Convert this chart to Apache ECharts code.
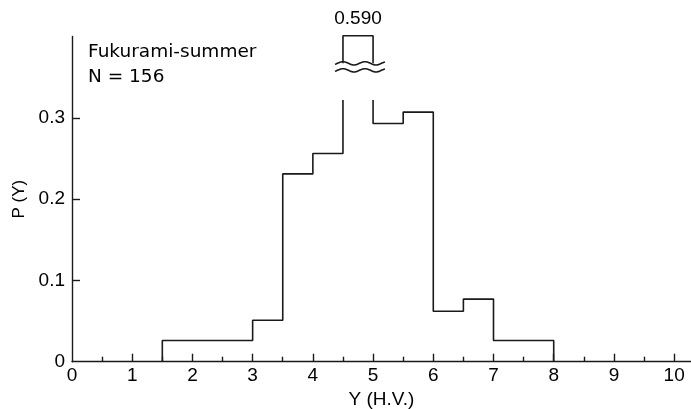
<!DOCTYPE html>
<html>
<head>
<meta charset="utf-8">
<script src="https://cdn.jsdelivr.net/npm/echarts@6/dist/echarts.min.js"></script>
<style>
  html, body { margin: 0; padding: 0; background: #fff; }
  #chart { width: 691px; height: 409px; }
</style>
</head>
<body>
<div id="chart"></div>
<script>
// Hue-value classes (lower edge of each 0.5-wide class) and their probability density
const binStart = [1.5, 2, 2.5, 3, 3.5, 4, 4.5, 5, 5.5, 6, 6.5, 7, 7.5];
const binWidth = 0.5;
const probability = [0.026, 0.026, 0.026, 0.051, 0.231, 0.256, 0.590, 0.293, 0.307, 0.062, 0.077, 0.026, 0.026];

const xTicks = [0, 1, 2, 3, 4, 5, 6, 7, 8, 9, 10];
const xMinorTicks = [0.5, 1.5, 2.5, 3.5, 4.5, 5.5, 6.5, 7.5, 8.5, 9.5];
const yTicks = [0, 0.1, 0.2, 0.3];

const sampleName = 'Fukurami-summer';
const sampleSize = 156;

// Axis break: any class above breakLow is cut there and its top is shown as a cap
// between breakHigh and capTop, labelled with the true value.
const breakLow = 0.322;
const breakHigh = 0.367;
const capTop = 0.401;

const INK = '#1a1a1a';
const TEXT = '#000';
const FONT = 'Liberation Sans, Arial, sans-serif';
const WIDE_FONT = 'DejaVu Sans, Verdana, sans-serif';

// outline of the histogram as one stepped polyline
const outline = [[binStart[0], 0]];
const caps = [];
const capLabels = [];
binStart.forEach((left, i) => {
  const right = left + binWidth;
  const p = probability[i];
  if (p > breakLow) {
    outline.push([left, breakLow], [left + binWidth / 2, '-'], [right, breakLow]);
    caps.push([[left, breakHigh], [left, capTop], [right, capTop], [right, breakHigh]]);
    capLabels.push([left + binWidth / 2, capTop, p]);
  } else {
    outline.push([left, p], [right, p]);
  }
});
outline.push([binStart[binStart.length - 1] + binWidth, 0]);

const capSeries = caps.map(pts => ({
  type: 'line',
  data: pts,
  symbol: 'none',
  clip: false,
  silent: true,
  lineStyle: { color: INK, width: 1.6 },
  z: 3
}));

// pair of wavy strokes marking the break under each cap
function renderBreak(params, api) {
  const left = api.coord([api.value(0), api.value(1)]);
  const right = api.coord([api.value(0) + binWidth, api.value(1)]);
  const x0 = left[0] - 8, x1 = right[0] + 12;
  const waves = [0, 7].map(dy => {
    const pts = [];
    for (let x = x0; x <= x1; x += 1) {
      pts.push([x, left[1] + dy - 1.6 * Math.cos(2 * Math.PI * (x - left[0]) / 22)]);
    }
    return {
      type: 'polyline',
      shape: { points: pts },
      style: { stroke: INK, lineWidth: 1.6, fill: null }
    };
  });
  return { type: 'group', children: waves };
}

const chart = echarts.init(document.getElementById('chart'), null, { renderer: 'canvas' });

chart.setOption({
  animation: false,
  backgroundColor: '#fff',
  textStyle: { fontFamily: FONT },
  grid: { left: 72, right: 0, top: 36.5, bottom: 47.3, containLabel: false, outerBoundsMode: 'none' },
  graphic: [{
    type: 'text',
    left: 88,
    top: 40,
    style: {
      text: sampleName + '\nN = ' + sampleSize,
      font: '18.5px ' + WIDE_FONT,
      fill: TEXT,
      lineHeight: 25
    }
  }],
  xAxis: [{
    type: 'value',
    min: 0,
    max: 10.28,
    name: 'Y (H.V.)',
    nameLocation: 'middle',
    nameGap: 28,
    nameTextStyle: { fontSize: 19, color: TEXT, fontFamily: FONT },
    axisLine: { show: true, onZero: false, lineStyle: { color: INK, width: 1.4 } },
    axisTick: { show: true, inside: true, length: 8, customValues: xTicks.slice(1), lineStyle: { color: INK, width: 1.4 } },
    axisLabel: { customValues: xTicks, fontSize: 19, color: TEXT, margin: 5, fontFamily: FONT },
    splitLine: { show: false }
  }, {
    type: 'value',
    min: 0,
    max: 10.28,
    position: 'bottom',
    axisLine: { show: false },
    axisTick: { show: true, inside: true, length: 5, customValues: xMinorTicks, lineStyle: { color: INK, width: 1.4 } },
    axisLabel: { show: false },
    splitLine: { show: false }
  }],
  yAxis: {
    type: 'value',
    min: 0,
    max: 0.4,
    interval: 0.1,
    name: 'P (Y)',
    nameLocation: 'middle',
    nameGap: 44,
    nameTextStyle: { fontSize: 17, color: TEXT, fontFamily: FONT },
    axisLine: { show: true, lineStyle: { color: INK, width: 1.4 } },
    axisTick: { show: true, inside: true, length: 8, customValues: yTicks.slice(1), lineStyle: { color: INK, width: 1.4 } },
    axisLabel: {
      customValues: yTicks,
      fontSize: 19,
      color: TEXT,
      margin: 7,
      fontFamily: FONT,
      formatter: v => (v === 0 ? '0' : v.toFixed(1))
    },
    splitLine: { show: false }
  },
  series: [{
    type: 'line',
    data: outline,
    symbol: 'none',
    connectNulls: false,
    silent: true,
    lineStyle: { color: INK, width: 1.6 },
    z: 3
  }].concat(capSeries, [{
    type: 'custom',
    renderItem: renderBreak,
    data: capLabels.map(d => [d[0] - binWidth / 2, breakHigh]),
    clip: false,
    silent: true,
    z: 4
  }, {
    type: 'scatter',
    data: capLabels,
    symbolSize: 0,
    clip: false,
    silent: true,
    itemStyle: { opacity: 1 },
    label: {
      show: true,
      position: 'top',
      distance: 7,
      fontSize: 19,
      color: TEXT,
      opacity: 1,
      textBorderWidth: 0,
      fontFamily: FONT,
      formatter: p => p.value[2].toFixed(3)
    }
  }])
});
</script>
</body>
</html>
